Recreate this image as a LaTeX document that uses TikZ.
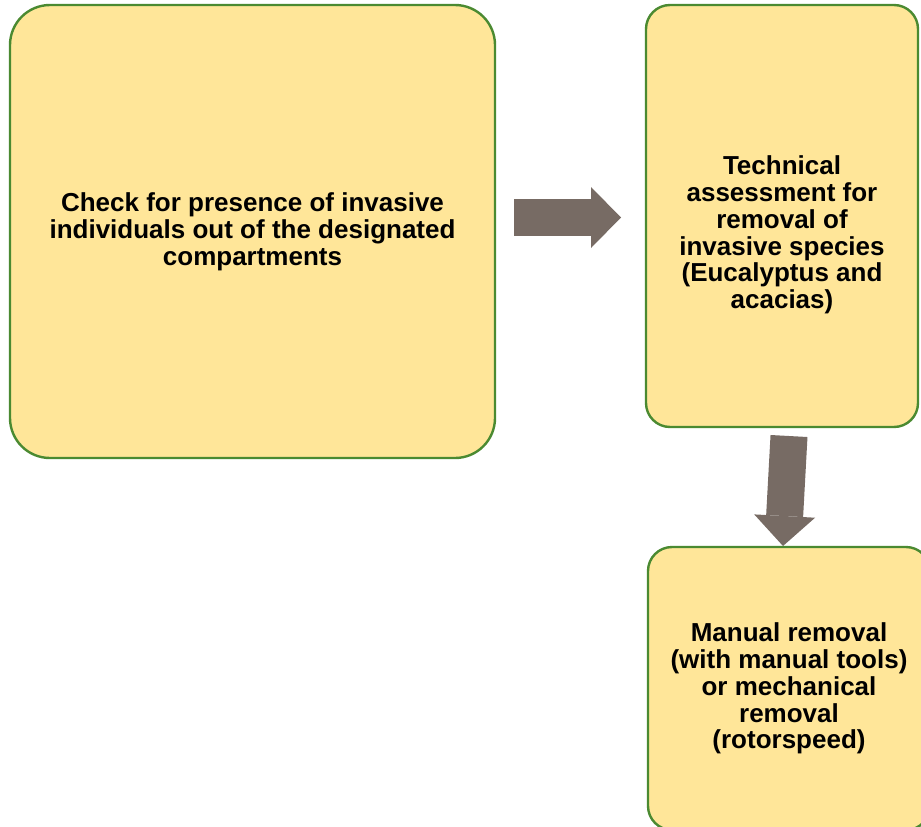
\documentclass[tikz,border=0pt]{standalone}
\usepackage{fontspec}
\setmainfont{Liberation Sans}
\usepackage{xcolor}
\usepackage{tikz}
\usetikzlibrary{arrows.meta, calc, positioning}
\definecolor{boxfill}{HTML}{FFE699}
\definecolor{boxline}{HTML}{4B8A31}
\definecolor{arrowgrey}{RGB}{119,107,100}

\begin{document}
\begin{tikzpicture}[x=1pt,y=-1pt,
    stage/.style={draw=boxline,fill=boxfill,line width=2.4pt,outer sep=0pt,inner sep=0pt,
      align=center,font=\fontsize{26pt}{26.8pt}\selectfont\bfseries},
    boxtext/.style={align=center,font=\fontsize{26pt}{26.8pt}\selectfont\bfseries},
    blockarrow/.style={arrowgrey,line width=37pt,-{Triangle[length=30pt,width=61pt,line width=0pt]}}]
  \useasboundingbox (0,0) rectangle (921,827);
  \node[stage,rounded corners=40pt,minimum width=485pt,minimum height=453pt,anchor=north west]
    (boxA) at (10,5) {Check for presence of invasive\\individuals out of the designated\\compartments};
  \node[stage,rounded corners=24pt,minimum width=272pt,minimum height=422pt,
    right=151pt of boxA.north east,anchor=north west] (boxB) {};
  \node[boxtext] (textB) at ([yshift=-19pt]boxB.center)
    {Technical\\assessment for\\removal of\\invasive species\\(Eucalyptus and\\acacias)};
  \node[stage,rounded corners=24pt,minimum width=282pt,minimum height=283pt,
    below=120pt of boxB.south west,anchor=north west,xshift=2pt] (boxC)
    {Manual removal\\(with manual tools)\\or mechanical\\removal\\(rotorspeed)};
  \draw[blockarrow] ([xshift=19pt,yshift=14pt]boxA.east) coordinate (ab) -- ([xshift=-25pt]boxB.west |- ab);
  \draw[blockarrow] ([xshift=7pt,yshift=-9pt]boxB.south) -- ([xshift=-6pt,yshift=1pt]boxC.north);
\end{tikzpicture}
\end{document}
